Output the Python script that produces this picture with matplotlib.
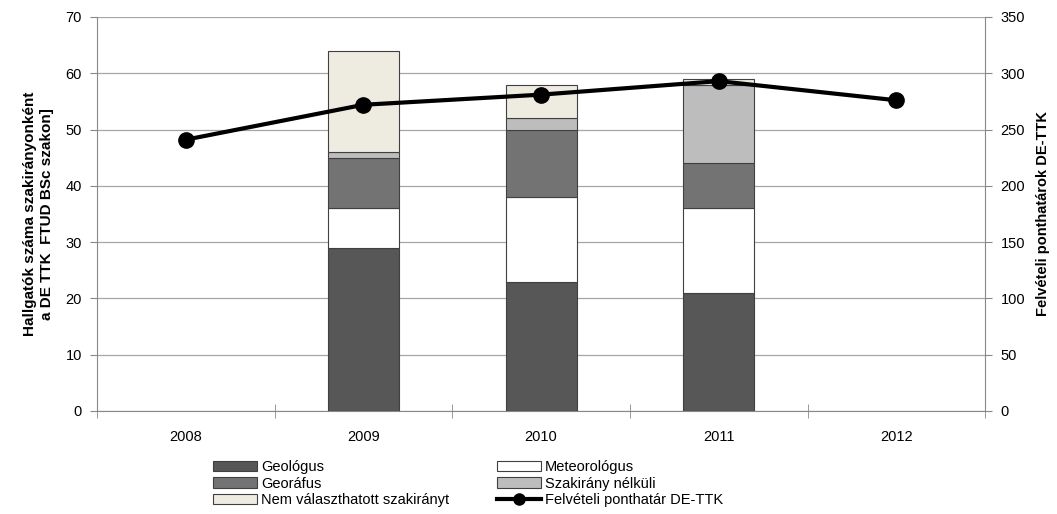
import matplotlib.pyplot as plt
import numpy as np
from matplotlib.lines import Line2D
from matplotlib.patches import Patch

plt.rcParams['font.family'] = ['Liberation Sans Narrow', 'Liberation Sans', 'DejaVu Sans']

# data
years = ['2008', '2009', '2010', '2011', '2012']
geologus = [0, 29, 23, 21, 0]
meteorologus = [0, 7, 15, 15, 0]
georafus = [0, 9, 12, 8, 0]
szakirany_nelkuli = [0, 1, 2, 14, 0]
nem_valaszthatott = [0, 18, 6, 1, 0]
ponthatar = [241, 272, 281, 293, 276]

series = [
    ('Geológus', geologus, '#575757'),
    ('Meteorológus', meteorologus, '#ffffff'),
    ('Georáfus', georafus, '#737373'),
    ('Szakirány nélküli', szakirany_nelkuli, '#bdbdbd'),
    ('Nem választhatott szakirányt', nem_valaszthatott, '#eeece1'),
]

fig = plt.figure(figsize=(10.57, 5.14), dpi=100)
ax = fig.add_axes([0.0918, 0.2004, 0.8402, 0.7666])
x = np.arange(len(years))

bottom = np.zeros(len(years))
handles = {}
for name, vals, col in series:
    vals = np.array(vals, dtype=float)
    m = vals > 0  # skip empty years, otherwise a flat edge line shows up
    ax.bar(x[m], vals[m], 0.4, bottom=bottom[m], color=col, edgecolor='#404040', linewidth=0.8, zorder=3)
    handles[name] = Patch(facecolor=col, edgecolor='#404040', linewidth=0.8)
    bottom += vals

ax.set_xlim(-0.5, len(years) - 0.5)
ax.set_ylim(0, 70)
ax.set_yticks(range(0, 71, 10))
ax.set_xticks(x)
ax.set_xticklabels(years)
ax.set_xticks(np.arange(-0.5, len(years)), minor=True)
ax.tick_params(axis='x', which='major', length=0, pad=14, labelsize=10.5)
ax.tick_params(axis='x', which='minor', length=10, direction='inout', color='#888888')
ax.tick_params(axis='y', length=5, color='#888888', labelsize=10.5, pad=6)
ax.yaxis.grid(True, color='#a6a6a6', linewidth=0.9, zorder=0)
ax.set_axisbelow(True)
for s in ['top', 'right']:
    ax.spines[s].set_visible(False)
for s in ['left', 'bottom']:
    ax.spines[s].set_color('#888888')
ax.set_ylabel('Hallgatók száma szakirányonként\na DE TTK  FTUD BSc szakon]',
              fontsize=11, fontweight='bold', labelpad=8, linespacing=1.3)

ax2 = ax.twinx()
ax2.plot(x, ponthatar, color='black', linewidth=3, marker='o', markersize=11, zorder=5)
ax2.set_ylim(0, 350)
ax2.set_yticks(range(0, 351, 50))
ax2.tick_params(axis='y', length=5, color='#888888', labelsize=10.5, pad=6)
for s in ['top', 'left', 'bottom']:
    ax2.spines[s].set_visible(False)
ax2.spines['right'].set_color('#888888')
ax2.set_ylabel('Felvételi ponthatárok DE-TTK', fontsize=10.5, fontweight='bold', labelpad=8)

line_handle = Line2D([0], [0], color='black', linewidth=3, marker='o', markersize=8)

leg_kw = dict(frameon=False, fontsize=10.5, handlelength=3.0, handleheight=0.7,
              labelspacing=0.18, handletextpad=0.3, borderpad=0, borderaxespad=0)
fig.legend([handles['Geológus'], handles['Georáfus'], handles['Nem választhatott szakirányt']],
           ['Geológus', 'Georáfus', 'Nem választhatott szakirányt'],
           loc='upper left', bbox_to_anchor=(213 / 1057, 1 - 460 / 514), **leg_kw)
fig.legend([handles['Meteorológus'], handles['Szakirány nélküli'], line_handle],
           ['Meteorológus', 'Szakirány nélküli', 'Felvételi ponthatár DE-TTK'],
           loc='upper left', bbox_to_anchor=(497 / 1057, 1 - 460 / 514), **leg_kw)

fig.savefig('out.png', dpi=100)
